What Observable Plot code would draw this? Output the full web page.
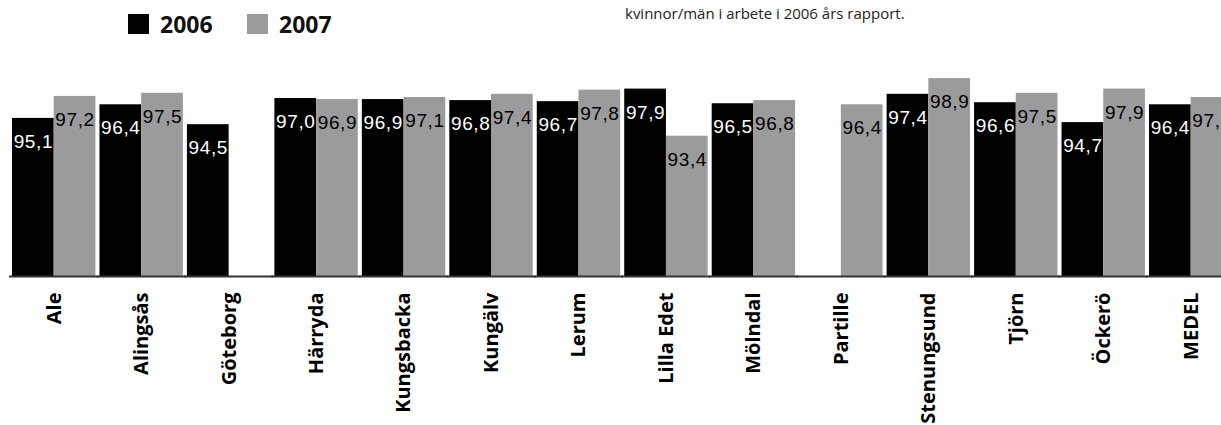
<!DOCTYPE html>
<html lang="sv">
<head>
<meta charset="utf-8">
<script src="https://cdn.jsdelivr.net/npm/d3@7"></script>
<script src="https://cdn.jsdelivr.net/npm/@observablehq/plot@0.6"></script>
<style>
  html, body { margin: 0; padding: 0; background: #fff; overflow: hidden; }
  #chart { position: relative; width: 1221px; height: 425px; }
  .head { position: relative; height: 50px; }
  .key { position: absolute; top: 14px; display: flex; align-items: center; height: 20px;
         font: bold 23px "Open Sans", sans-serif; color: #111; }
  .swatch { width: 21px; height: 20px; margin-right: 11px; }
  .note { position: absolute; left: 625px; top: 3px; font: 15px "Open Sans", sans-serif; color: #222; white-space: nowrap; }
  g[aria-label^="fx-axis"] text { font: bold 20px "Open Sans", sans-serif; fill: #000; }
  g[aria-label="text"] text { letter-spacing: 0.6px; }
</style>
</head>
<body>
<div id="chart">
  <div class="head">
    <div class="key" id="key2006" style="left:128px"></div>
    <div class="key" id="key2007" style="left:247px"></div>
    <div class="note" id="note"></div>
  </div>
</div>
<script>
// Municipalities (and the average) along the axis
const cities = ["Ale", "Alingsås", "Göteborg", "Härryda", "Kungsbacka", "Kungälv", "Lerum",
                "Lilla Edet", "Mölndal", "Partille", "Stenungsund", "Tjörn", "Öckerö", "MEDEL"];
// Series labels
const years = ["2006", "2007"];
// Values per year; null where a municipality has no figure
const v2006 = [95.1, 96.4, 94.5, 97.0, 96.9, 96.8, 96.7, 97.9, 96.5, null, 97.4, 96.6, 94.7, 96.4];
const v2007 = [97.2, 97.5, null, 96.9, 97.1, 97.4, 97.8, 93.4, 96.8, 96.4, 98.9, 97.5, 97.9, 97.1];
// Note in the header
const noteText = "kvinnor/män i arbete i 2006 års rapport.";

const BASE = 80;
const colors = ["#000000", "#9b9b9d"];
const fmt = v => d3.format(".1f")(v).replace(".", ",");

const rows = [];
cities.forEach((city, i) => {
  [v2006, v2007].forEach((vals, j) => {
    if (vals[i] != null) rows.push({city, year: years[j], value: vals[i]});
  });
});

// Header: legend keys and note
years.forEach((y, j) => {
  const el = document.getElementById("key" + y);
  el.innerHTML = `<span class="swatch" style="background:${colors[j]}"></span><span>${y}</span>`;
});
document.getElementById("note").textContent = noteText;

// The last group runs past the right edge, so the facet band extends beyond the width
const chart = Plot.plot({
  width: 1221,
  height: 375,
  marginTop: 16.6,
  marginBottom: 149,
  marginLeft: 12,
  marginRight: -11.4,
  style: {fontFamily: "Liberation Sans, Arial, sans-serif", background: "transparent", overflow: "visible"},
  fx: {domain: cities, padding: 0.0464, round: false, axis: "bottom",
       tickRotate: -90, tickSize: 0, tickPadding: 16, label: null},
  x: {domain: years, padding: 0, round: false, axis: null},
  y: {domain: [BASE, 100], axis: null},
  color: {domain: years, range: colors},
  marks: [
    Plot.barY(rows, {fx: "city", x: "year", y1: BASE, y2: "value", fill: "year"}),
    Plot.ruleY([BASE], {stroke: "#333", strokeWidth: 2, insetLeft: -3, insetRight: -3}),
    Plot.text(rows.filter(d => d.year === years[0]), {
      fx: "city", x: "year", y: "value", text: d => fmt(d.value),
      fill: "white", lineAnchor: "top", dy: 16, fontSize: 19
    }),
    Plot.text(rows.filter(d => d.year === years[1]), {
      fx: "city", x: "year", y: "value", text: d => fmt(d.value),
      fill: "black", lineAnchor: "top", dy: 16, fontSize: 19
    })
  ]
});
document.getElementById("chart").appendChild(chart);
</script>
</body>
</html>
